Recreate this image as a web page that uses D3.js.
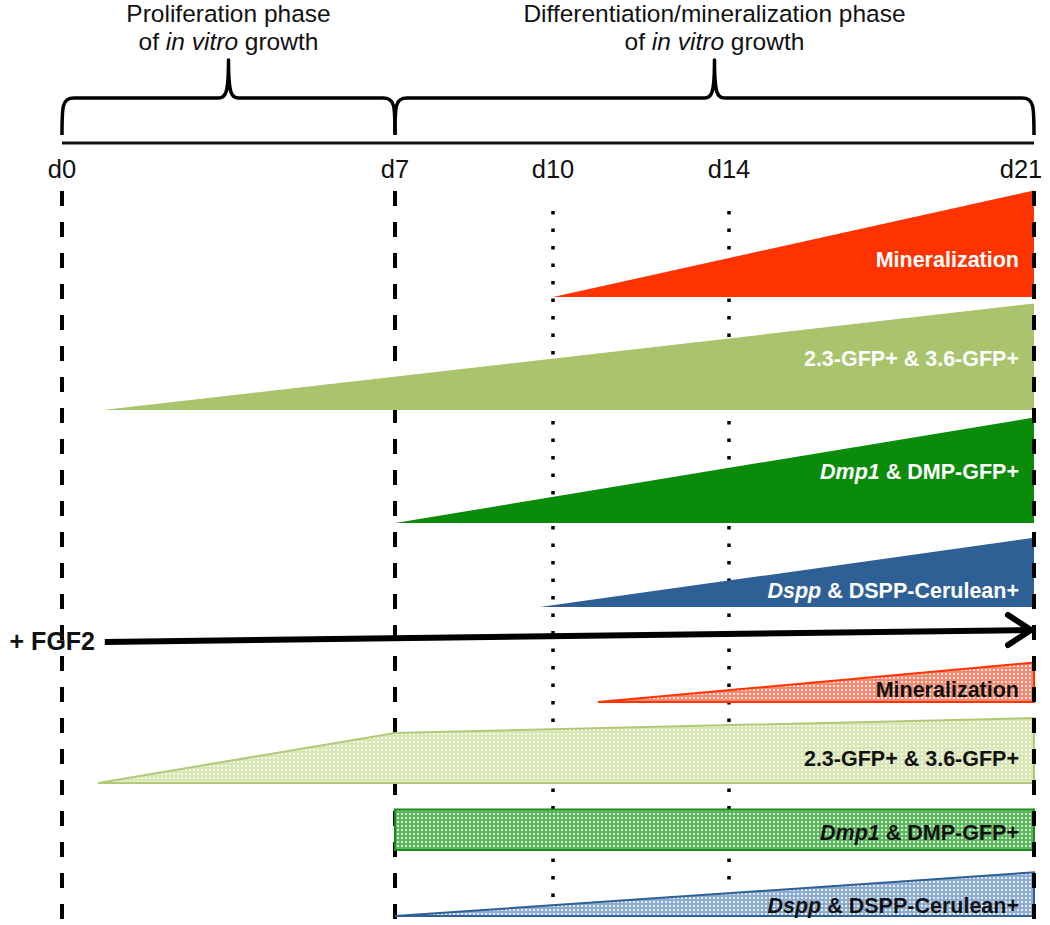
<!DOCTYPE html>
<html>
<head>
<meta charset="utf-8">
<script src="https://cdn.jsdelivr.net/npm/d3@7"></script>
<style>
  html, body { margin: 0; padding: 0; background: #fff; }
  svg { display: block; font-family: "Liberation Sans", Arial, sans-serif; }
</style>
</head>
<body>
<svg id="chart" width="1050" height="925"></svg>
<script>
// ---------------- data ----------------
const days = [0, 7, 10, 14, 21];
const dayLabels = ["d0", "d7", "d10", "d14", "d21"];
const dayLineStyles = ["dashed", "dashed", "dotted", "dotted", "dashed"];

const phaseNames = ["Proliferation phase", "Differentiation/mineralization phase"];
const phaseSpans = [[0, 7], [7, 21]];

const fgf2Label = "+ FGF2";
const fgf2Span = [0.9, 21];

// marker rows: label parts [text, italic]
const markerLabels = [
  [["Mineralization", false]],
  [["2.3-GFP+ & 3.6-GFP+", false]],
  [["Dmp1", true], [" & DMP-GFP+", false]],
  [["Dspp", true], [" & DSPP-Cerulean+", false]],
  [["Mineralization", false]],
  [["2.3-GFP+ & 3.6-GFP+", false]],
  [["Dmp1", true], [" & DMP-GFP+", false]],
  [["Dspp", true], [" & DSPP-Cerulean+", false]]
];
const markerTreatment = ["control", "control", "control", "control", "FGF2", "FGF2", "FGF2", "FGF2"];
// expression profiles: [day, relative level 0-100]
const mineralControl = [[10, 0], [21, 100]];
const gfpControl     = [[0.86, 0], [21, 100]];
const dmpControl     = [[7, 0], [21, 99]];
const dsppControl    = [[9.75, 0], [21, 65]];
const mineralFGF2    = [[11.02, 0], [21, 37]];
const gfpFGF2        = [[0.76, 0], [7, 47], [21, 61]];
const dmpFGF2        = [[7, 38], [21, 38]];
const dsppFGF2       = [[7, 0], [21, 41]];
const profiles = [mineralControl, gfpControl, dmpControl, dsppControl,
                  mineralFGF2, gfpFGF2, dmpFGF2, dsppFGF2];

// ---------------- layout / style ----------------
const svg = d3.select("#chart");
const x = d3.scaleLinear().domain(days).range([62, 395, 553, 729, 1034]);
const h = d3.scaleLinear().domain([0, 100]).range([0, 106.5]);
const rowBase = [297, 410, 523, 607, 702, 783, 850, 916];
const labelLift = [38, 52, 52, 17, 13, 25, 18, 11];
const fills = ["#ff3300", "#a9c46c", "#0a8c0a", "#2e5f95", "url(#pRed)", "url(#pLime)", "url(#pGreen)", "url(#pBlue)"];
const strokes = ["none", "none", "none", "none", "#ff3300", "#b0c978", "#1a8a1a", "#2e5f95"];
const textColors = ["#fff", "#fff", "#fff", "#fff", "#111", "#111", "#111", "#111"];

// patterns
const defs = svg.append("defs");
function pattern(id, bg, dot) {
  const p = defs.append("pattern").attr("id", id).attr("patternUnits", "userSpaceOnUse")
    .attr("width", 4).attr("height", 4);
  p.append("rect").attr("width", 4).attr("height", 4).attr("fill", bg);
  p.append("rect").attr("x", 1).attr("y", 1).attr("width", 2).attr("height", 2).attr("fill", dot);
}
pattern("pRed", "#f28a74", "#fde3dc");
pattern("pLime", "#d8e6b4", "#f6f9ec");
pattern("pGreen", "#5cb85c", "#d4eed4");
pattern("pBlue", "#8eacd2", "#e6eef7");

// ---------------- phase braces ----------------
const braceY = 98, braceBottom = 135, braceTip = 60;
function bracePath(xa, xb) {
  const xm = (xa + xb) / 2;
  return `M${xa},${braceBottom} C${xa},${braceY + 8} ${xa},${braceY} ${xa + 12},${braceY}
          L${xm - 10},${braceY} C${xm - 3},${braceY} ${xm},${braceY - 4} ${xm},${braceTip}
          C${xm},${braceY - 4} ${xm + 3},${braceY} ${xm + 10},${braceY}
          L${xb - 12},${braceY} C${xb},${braceY} ${xb},${braceY + 8} ${xb},${braceBottom}`;
}
phaseSpans.forEach((s, i) => {
  svg.append("path").attr("d", bracePath(x(s[0]), x(s[1])))
    .attr("fill", "none").attr("stroke", "#000").attr("stroke-width", 3.5)
    .attr("stroke-linejoin", "round");
  const cx = (x(s[0]) + x(s[1])) / 2;
  svg.append("text").attr("x", cx).attr("y", 22).attr("text-anchor", "middle")
    .attr("font-size", 24.5).attr("fill", "#111").text(phaseNames[i]);
  const t2 = svg.append("text").attr("x", cx).attr("y", 50).attr("text-anchor", "middle")
    .attr("font-size", 24.5).attr("fill", "#111");
  t2.append("tspan").text("of ");
  t2.append("tspan").attr("font-style", "italic").text("in vitro");
  t2.append("tspan").text(" growth");
});
svg.append("line").attr("x1", x(0)).attr("x2", x(21)).attr("y1", 143).attr("y2", 143)
  .attr("stroke", "#111").attr("stroke-width", 3);

// ---------------- day labels and guide lines ----------------
days.forEach((d, i) => {
  svg.append("text").attr("x", x(d) + (i === days.length - 1 ? -13 : 0)).attr("y", 178)
    .attr("text-anchor", "middle").attr("font-size", 25.5).attr("fill", "#111").text(dayLabels[i]);
});
function guide(i) {
  const dashed = dayLineStyles[i] === "dashed";
  svg.append("line").attr("x1", x(days[i])).attr("x2", x(days[i]))
    .attr("y1", dashed ? 191 : 211).attr("y2", 925)
    .attr("stroke", "#000").attr("stroke-width", dashed ? 4 : 3.5)
    .attr("stroke-dasharray", dashed ? "15,16" : "3.5,14");
}
[0, 1, 2, 3].forEach(guide);

// ---------------- marker shapes ----------------
profiles.forEach((prof, i) => {
  const base = rowBase[i];
  const pts = prof.map(p => [x(p[0]), base - h(p[1])]);
  const last = prof[prof.length - 1], first = prof[0];
  const poly = [[x(first[0]), base], ...pts, [x(last[0]), base]];
  svg.append("path").attr("d", d3.line()(poly) + "Z")
    .attr("fill", fills[i]).attr("stroke", strokes[i]).attr("stroke-width", strokes[i] === "none" ? 0 : 2)
    .attr("stroke-linejoin", "miter");
  const t = svg.append("text").attr("x", 1019).attr("y", base - labelLift[i] + 7.5)
    .attr("text-anchor", "end").attr("font-size", 21.5).attr("font-weight", "bold")
    .attr("fill", textColors[i]);
  markerLabels[i].forEach(part => {
    t.append("tspan").attr("font-style", part[1] ? "italic" : "normal").text(part[0]);
  });
});

// ---------------- FGF2 arrow ----------------
const ax1 = x(fgf2Span[0]), ax2 = x(fgf2Span[1]) - 3;
const ay1 = 642, ay2 = 630;
svg.append("line").attr("x1", ax1).attr("y1", ay1).attr("x2", ax2 - 2).attr("y2", ay2)
  .attr("stroke", "#000").attr("stroke-width", 6);
svg.append("path").attr("d", `M${ax2 - 23},${ay2 - 15} L${ax2},${ay2} L${ax2 - 23},${ay2 + 15}`)
  .attr("fill", "none").attr("stroke", "#000").attr("stroke-width", 6)
  .attr("stroke-linecap", "round").attr("stroke-linejoin", "miter");
svg.append("text").attr("x", 95).attr("y", 650).attr("text-anchor", "end")
  .attr("font-size", 25).attr("font-weight", "bold").attr("fill", "#111").text(fgf2Label);

// d21 guide drawn over shapes
guide(4);
</script>
</body>
</html>
